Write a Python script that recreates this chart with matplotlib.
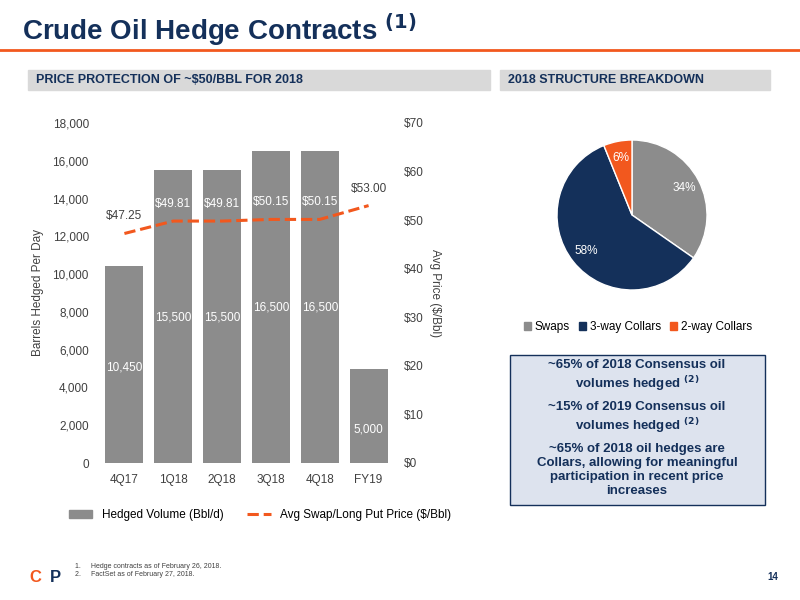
import matplotlib
matplotlib.use("Agg")
import matplotlib.pyplot as plt
from matplotlib.patches import Rectangle, Patch
from matplotlib.lines import Line2D

plt.rcParams['font.family'] = ['Liberation Sans', 'DejaVu Sans']

periods = ["4Q17", "1Q18", "2Q18", "3Q18", "4Q18", "FY19"]
volumes = [10450, 15500, 15500, 16500, 16500, 5000]
prices = [47.25, 49.81, 49.81, 50.15, 50.15, 53.00]
pie_labels = ["Swaps", "3-way Collars", "2-way Collars"]
pie_vals = [34, 58, 6]

NAVY = "#14305a"; ORANGE = "#f2581e"; GREY = "#8c8c8c"
W, H = 800, 600
fig = plt.figure(figsize=(8, 6), dpi=100)
def fx(x): return x / W
def fy(y): return 1 - y / H

fig.text(fx(22), fy(30), "Crude Oil Hedge Contracts $^{\\mathbf{(1)}}$", fontsize=20, fontweight="bold", color=NAVY, va="center")
fig.add_artist(plt.Line2D([fx(0), fx(800)], [fy(50), fy(50)], color=ORANGE, lw=2))
for x0, x1, t in [(28, 490, "PRICE PROTECTION OF ~$50/BBL FOR 2018"), (500, 770, "2018 STRUCTURE BREAKDOWN")]:
    fig.add_artist(Rectangle((fx(x0), fy(90)), fx(x1 - x0), 20 / H, color="#d9d9d9", transform=fig.transFigure))
    fig.text(fx(x0 + 8), fy(80), t, fontsize=9, fontweight="bold", color=NAVY, va="center")

ax = fig.add_axes([fx(100), fy(463), fx(293), 340 / H])
x = range(len(periods))
ax.bar(x, volumes, width=0.78, color=GREY)
ax.set_ylim(0, 18000); ax.set_xlim(-0.5, 5.5)
ax.set_yticks(range(0, 18001, 2000))
ax.set_yticklabels([f"{v:,}" for v in range(0, 18001, 2000)])
ax.set_xticks(list(x)); ax.set_xticklabels(periods)
ax.tick_params(length=0, labelsize=8.5, colors="#404040", pad=8)
for s in ax.spines.values(): s.set_visible(False)
ax.set_ylabel("Barrels Hedged Per Day", fontsize=8.5, color="#404040", labelpad=6)
label_y = [5050, 7700, 7700, 8250, 8250, 1750]
for i, v in enumerate(volumes):
    ax.text(i, label_y[i], f"{v:,}", ha="center", va="center", fontsize=8.5, color="white")
ax2 = ax.twinx()
ax2.plot(x, prices, color=ORANGE, lw=2.2, ls="--")
ax2.set_ylim(0, 70); ax2.set_yticks(range(0, 71, 10))
ax2.set_yticklabels([f"${v}" for v in range(0, 71, 10)])
ax2.tick_params(length=0, labelsize=8.5, colors="#404040", pad=8)
for s in ax2.spines.values(): s.set_visible(False)
ax2.set_ylabel("Avg Price ($/Bbl)", fontsize=8.5, color="#404040", rotation=270, labelpad=12)
for i, p in enumerate(prices):
    ax2.text(i, p + 3.5, f"${p:.2f}", ha="center", va="center", fontsize=8.5,
             color="white" if i in (1, 2, 3, 4) else "#404040")
fig.legend([Patch(color=GREY), Line2D([], [], color=ORANGE, lw=2.2, ls="--")],
           ["Hedged Volume (Bbl/d)", "Avg Swap/Long Put Price ($/Bbl)"], loc="center",
           bbox_to_anchor=(fx(260), fy(515)), ncol=2, frameon=False, fontsize=8.5)

total = sum(pie_vals)
pax = fig.add_axes([fx(557), fy(290), fx(150), 150 / H])
pax.pie(pie_vals, colors=[GREY, NAVY, ORANGE], startangle=90, counterclock=False,
        autopct=lambda p: f"{round(p * total / 100)}%", pctdistance=0.78,
        textprops=dict(color="white", fontsize=8.5),
        wedgeprops=dict(edgecolor="white", linewidth=1), radius=1.0)
pax.set_xlim(-1, 1); pax.set_ylim(-1, 1)
fig.legend([Patch(color=c) for c in [GREY, NAVY, ORANGE]], pie_labels, loc="center",
           bbox_to_anchor=(fx(638), fy(327)), ncol=3, frameon=False, fontsize=8.5,
           handlelength=0.6, columnspacing=0.8, handletextpad=0.3)

fig.add_artist(Rectangle((fx(510), fy(505)), fx(255), 150 / H, facecolor="#dde3ee", edgecolor=NAVY, lw=1, transform=fig.transFigure))
for yy, t in [(376, "~65% of 2018 Consensus oil\nvolumes hedged $^{\\mathbf{(2)}}$"),
              (418, "~15% of 2019 Consensus oil\nvolumes hedged $^{\\mathbf{(2)}}$"),
              (470, "~65% of 2018 oil hedges are\nCollars, allowing for meaningful\nparticipation in recent price\nincreases")]:
    fig.text(fx(637), fy(yy), t, ha="center", va="center", fontsize=9.5, fontweight="bold", color=NAVY, linespacing=1.2)

fig.text(fx(75), fy(566), "1.     Hedge contracts as of February 26, 2018.", fontsize=5, color="#404040", va="center")
fig.text(fx(75), fy(574), "2.     FactSet as of February 27, 2018.", fontsize=5, color="#404040", va="center")
fig.text(fx(778), fy(577), "14", fontsize=7, color=NAVY, ha="right", va="center", fontweight="bold")
fig.text(fx(35), fy(577), "C", fontsize=12, color=ORANGE, ha="center", va="center", fontweight="bold")
fig.text(fx(55), fy(577), "P", fontsize=12, color=NAVY, ha="center", va="center", fontweight="bold")
fig.savefig("out.png", dpi=100)
